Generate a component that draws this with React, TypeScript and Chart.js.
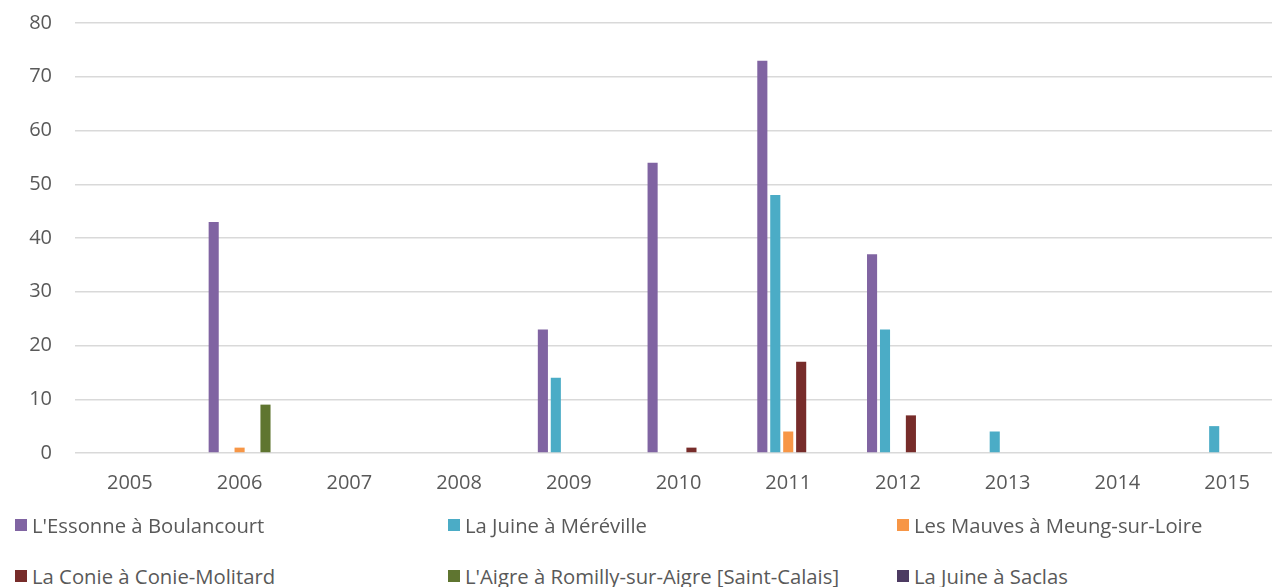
import React, { useEffect, useRef } from "react";
import { Chart, registerables } from "chart.js";

Chart.register(...registerables);

const years = ["2005", "2006", "2007", "2008", "2009", "2010", "2011", "2012", "2013", "2014", "2015"];
const essonneBoulancourt = [null, 43, null, null, 23, 54, 73, 37, null, null, null];
const juineMereville = [null, null, null, null, 14, null, 48, 23, 4, null, 5];
const mauvesMeung = [null, 1, null, null, null, null, 4, null, null, null, null];
const conieMolitard = [null, null, null, null, null, 1, 17, 7, null, null, null];
const aigreRomilly = [null, 9, null, null, null, null, null, null, null, null, null];
const juineSaclas = [null, null, null, null, null, null, null, null, null, null, null];

const seriesNames = [
  "L'Essonne à Boulancourt",
  "La Juine à Méréville",
  "Les Mauves à Meung-sur-Loire",
  "La Conie à Conie-Molitard",
  "L'Aigre à Romilly-sur-Aigre [Saint-Calais]",
  "La Juine à Saclas",
];
const seriesColors = ["#8064A2", "#4BACC6", "#F79646", "#772C2A", "#5F7530", "#4D3B62"];
const seriesData = [essonneBoulancourt, juineMereville, mauvesMeung, conieMolitard, aigreRomilly, juineSaclas];

const yTicks = [0, 10, 20, 30, 40, 50, 60, 70, 80];

const FONT = "'Open Sans', 'Noto Sans', sans-serif";
const TEXT = "#595959";

export default function App() {
  const ref = useRef<HTMLCanvasElement | null>(null);

  useEffect(() => {
    if (!ref.current) return;
    const chart = new Chart(ref.current, {
      type: "bar",
      data: {
        labels: years,
        datasets: seriesNames.map((name, i) => ({
          label: name,
          data: seriesData[i],
          backgroundColor: seriesColors[i],
          borderWidth: 0,
          hidden: i === 5,
          categoryPercentage: 0.59,
          barPercentage: 0.78,
        })),
      },
      options: {
        animation: false,
        responsive: false,
        maintainAspectRatio: false,
        layout: { padding: { top: 23, left: 0, right: 0, bottom: 0 } },
        plugins: {
          legend: { display: false },
          tooltip: { enabled: false },
        },
        scales: {
          x: {
            grid: { display: false, drawTicks: false },
            border: { display: false },
            ticks: {
              color: TEXT,
              font: { family: FONT, size: 20 },
              padding: 18,
              maxRotation: 0,
            },
            afterFit: (scale: any) => {
              scale.height = 60;
              scale.paddingLeft = 0;
              scale.paddingRight = 0;
            },
          },
          y: {
            min: 0,
            max: 80,
            afterBuildTicks: (scale: any) => {
              scale.ticks = yTicks.map((v) => ({ value: v }));
            },
            grid: { color: "#D9D9D9", lineWidth: 1.5, drawTicks: false },
            border: { display: false },
            ticks: {
              color: TEXT,
              font: { family: FONT, size: 20 },
              padding: 23,
            },
            afterFit: (scale: any) => {
              scale.width = 75;
              scale.paddingTop = 0;
              scale.paddingBottom = 0;
            },
          },
        },
      },
    });
    return () => chart.destroy();
  }, []);

  const colLeft = [15, 448, 897];
  const rowCenter = [525, 576];

  return (
    <div
      style={{
        position: "fixed",
        left: 0,
        top: 0,
        width: 1272,
        height: 587,
        overflow: "hidden",
        background: "#fff",
        fontFamily: FONT,
      }}
    >
      <canvas ref={ref} width={1282} height={513} style={{ position: "absolute", left: 0, top: 0, width: 1282, height: 513 }} />
      {seriesNames.map((name, i) => {
        const col = i % 3;
        const row = Math.floor(i / 3);
        return (
          <div
            key={name}
            style={{
              position: "absolute",
              left: colLeft[col],
              top: rowCenter[row] - 14,
              height: 28,
              display: "flex",
              alignItems: "center",
              whiteSpace: "nowrap",
              color: TEXT,
              fontSize: 20.3,
              fontFamily: FONT,
            }}
          >
            <span style={{ display: "inline-block", width: 12, height: 12, background: seriesColors[i], marginRight: 5 }} />
            <span>{name}</span>
          </div>
        );
      })}
    </div>
  );
}
